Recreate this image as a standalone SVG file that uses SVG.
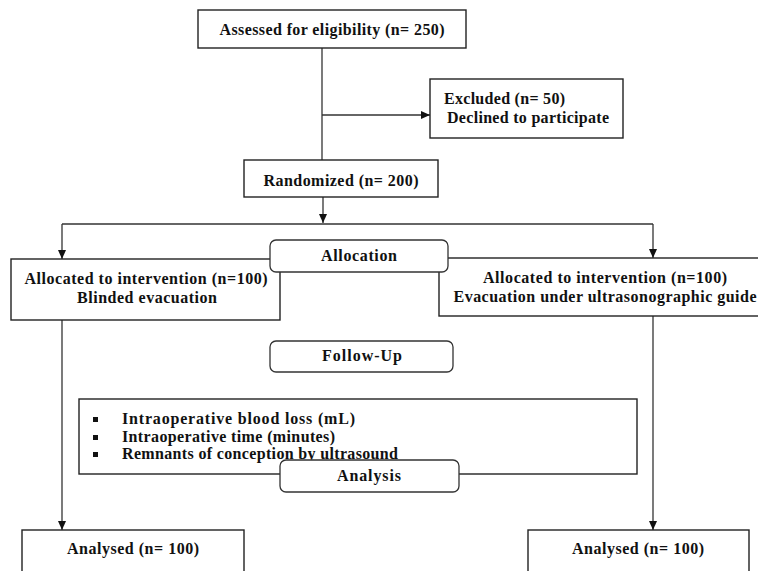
<svg xmlns="http://www.w3.org/2000/svg" width="758" height="571" viewBox="0 0 758 571">
<defs>
<marker id="ah" markerWidth="10" markerHeight="10" refX="9" refY="5" orient="auto" markerUnits="userSpaceOnUse">
<path d="M0,1 L9,5 L0,9 Z" fill="#111"/>
</marker>
<style>
.box{fill:#fff;stroke:#222;stroke-width:1.4}
.rbox{fill:#fff;stroke:#333;stroke-width:1.3}
.t{font-weight:bold;font-size:16px;fill:#111}
.c{text-anchor:middle}
.ln{fill:none;stroke:#333;stroke-width:1.3}
.bl{fill:#111}
</style>
</defs>
<rect width="758" height="571" fill="#fff"/>
<g id="connectors">
<line class="ln" x1="322" y1="48" x2="322" y2="160"/>
<line class="ln" x1="322" y1="115" x2="430" y2="115" marker-end="url(#ah)"/>
<line class="ln" x1="323" y1="197" x2="323" y2="223" marker-end="url(#ah)"/>
<polyline class="ln" points="62,224 653,224"/>
<line class="ln" x1="62" y1="224" x2="62" y2="259" marker-end="url(#ah)"/>
<line class="ln" x1="653" y1="224" x2="653" y2="258" marker-end="url(#ah)"/>
<line class="ln" x1="62" y1="320" x2="62" y2="530" marker-end="url(#ah)"/>
<line class="ln" x1="653" y1="316" x2="653" y2="530" marker-end="url(#ah)"/>
</g>
<g font-family="'Liberation Serif', 'Times New Roman', serif">
<g id="assessed">
<rect class="box" x="198" y="10" width="268" height="38"/>
<text class="t c" x="332" y="35" textLength="225">Assessed for eligibility (n= 250)</text>
</g>
<g id="excluded">
<rect class="box" x="430" y="79" width="193" height="59"/>
<text class="t" x="444" y="104" textLength="121">Excluded (n= 50)</text>
<text class="t" x="447" y="123" textLength="162">Declined to participate</text>
</g>
<g id="randomized">
<rect class="box" x="244" y="160" width="194" height="37"/>
<text class="t c" x="341" y="186" textLength="155">Randomized (n= 200)</text>
</g>
<g id="alloc-left">
<rect class="box" x="11" y="259" width="269" height="61"/>
<text class="t c" x="146" y="284" textLength="243">Allocated to intervention (n=100)</text>
<text class="t c" x="147" y="303" textLength="140">Blinded evacuation</text>
</g>
<g id="alloc-right">
<rect class="box" x="439" y="258" width="340" height="58"/>
<text class="t c" x="605" y="283" textLength="244">Allocated to intervention (n=100)</text>
<text class="t c" x="605" y="302" textLength="303">Evacuation under ultrasonographic guide</text>
</g>
<g id="allocation">
<rect class="rbox" x="270" y="240" width="178" height="32" rx="6"/>
<text class="t c" x="359" y="261" textLength="76">Allocation</text>
</g>
<g id="followup">
<rect class="rbox" x="270" y="341" width="183" height="31" rx="6"/>
<text class="t c" x="362" y="361" textLength="80">Follow-Up</text>
</g>
<g id="outcomes">
<rect class="box" x="79" y="399" width="558" height="75"/>
<rect class="bl" x="93" y="417" width="5" height="5"/>
<rect class="bl" x="93" y="435" width="5" height="5"/>
<rect class="bl" x="93" y="452" width="5" height="5"/>
<text class="t" x="122" y="424" textLength="233">Intraoperative blood loss (mL)</text>
<text class="t" x="122" y="442" textLength="213">Intraoperative time (minutes)</text>
<text class="t" x="122" y="459" textLength="276">Remnants of conception by ultrasound</text>
</g>
<g id="analysis">
<rect class="rbox" x="280" y="460" width="179" height="32" rx="6"/>
<text class="t c" x="369" y="481" textLength="64">Analysis</text>
</g>
<g id="analysed-left">
<rect class="box" x="22" y="530" width="222" height="60"/>
<text class="t c" x="133" y="554" textLength="132">Analysed (n= 100)</text>
</g>
<g id="analysed-right">
<rect class="box" x="528" y="530" width="221" height="60"/>
<text class="t c" x="638" y="554" textLength="132">Analysed (n= 100)</text>
</g>
</g>
</svg>
